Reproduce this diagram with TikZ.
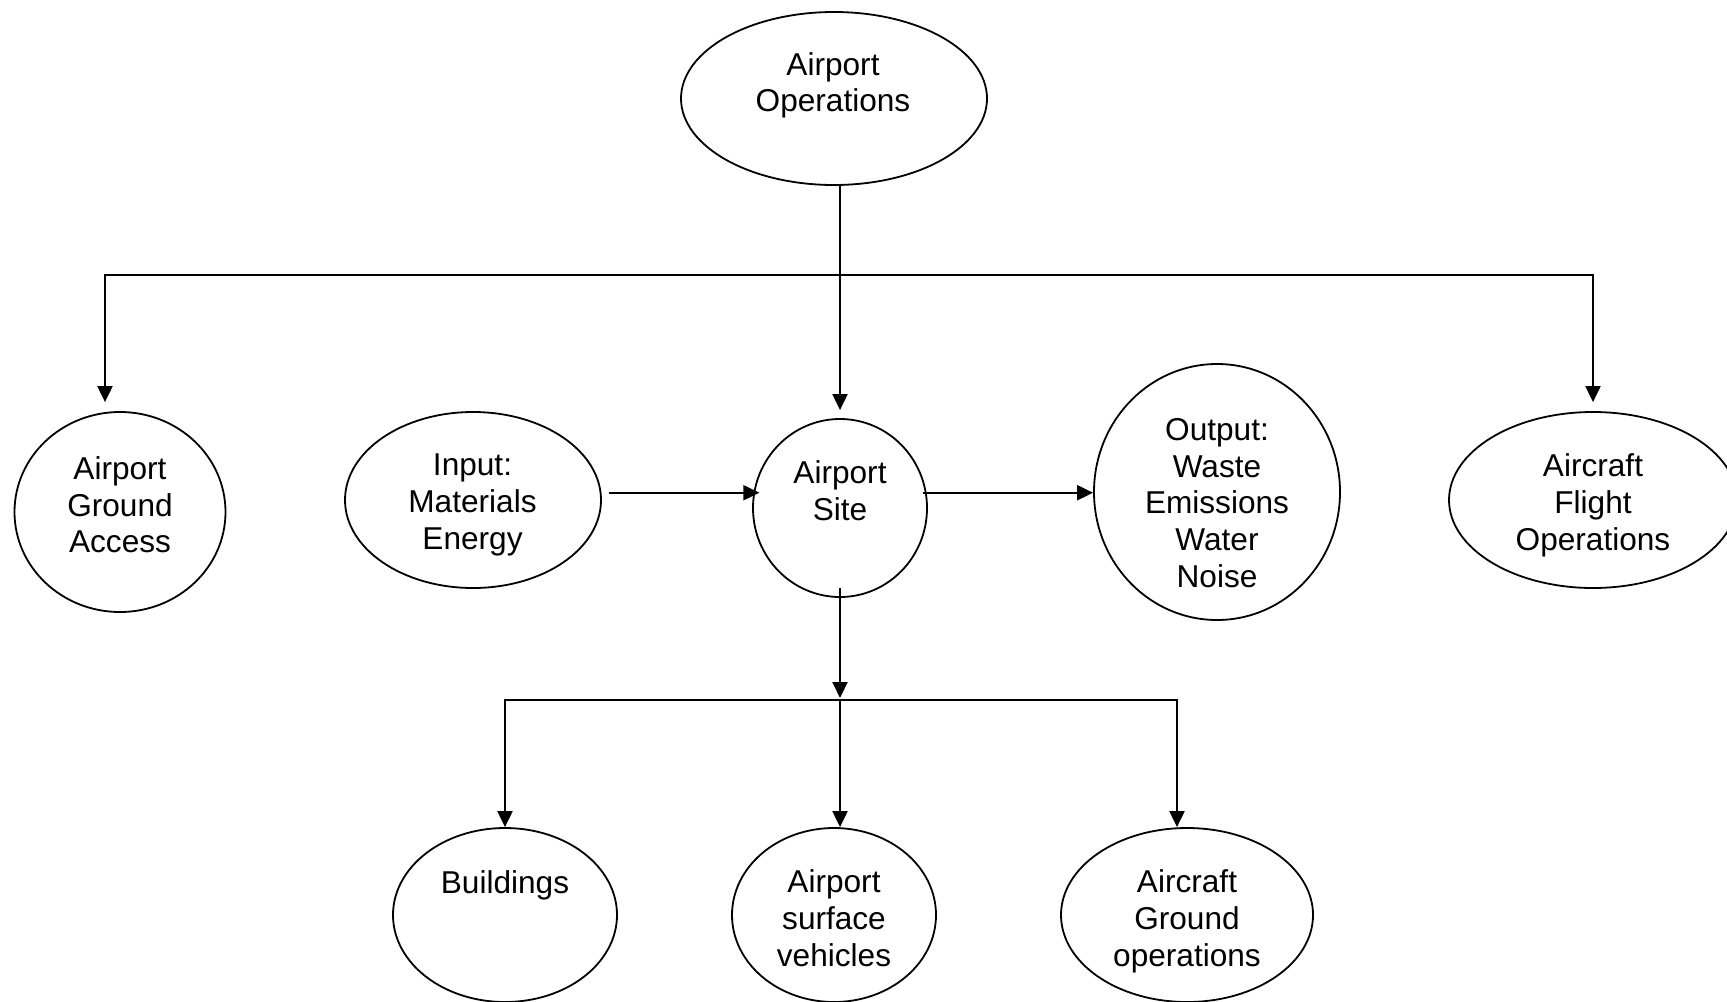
\documentclass[tikz,border=0pt]{standalone}
\usepackage{fontspec}
\setmainfont{Liberation Sans}
\usetikzlibrary{shapes.geometric,arrows.meta}
\begin{document}
\begin{tikzpicture}[x=0.5pt,y=-0.5pt,
  oval/.style={ellipse,draw,line width=0.9pt,inner sep=0pt},
  lbl/.style={align=center,inner sep=0pt,font=\fontsize{15.8pt}{18.35pt}\selectfont},
  arr/.style={line width=1pt,-{Triangle[length=8pt,width=7.5pt]}}]
\useasboundingbox (0,0) rectangle (1727,1001);

% ovals
\node[oval,minimum width=153pt,minimum height=86.5pt] (ops)    at (834,98.5) {};
\node[oval,minimum width=105.5pt,minimum height=100pt] (gnd)   at (120,512) {};
\node[oval,minimum width=128pt,minimum height=88pt]   (in)     at (473,500) {};
\node[oval,minimum width=87pt,minimum height=89pt]    (site)   at (840,508) {};
\node[oval,minimum width=123pt,minimum height=128pt]  (out)    at (1217,492) {};
\node[oval,minimum width=144pt,minimum height=88pt]   (flight) at (1593,500) {};
\node[oval,minimum width=112pt,minimum height=87pt]   (bld)    at (505,915) {};
\node[oval,minimum width=102pt,minimum height=87pt]   (veh)    at (834,915) {};
\node[oval,minimum width=126pt,minimum height=87pt]   (acg)    at (1187,915) {};

% labels
\node[lbl] (opsT)    at (833,85.2)  {Airport\\Operations};
\node[lbl] (gndT)    at (120,504.7) {Airport\\Ground\\Access};
\node[lbl] (inT)     at (472.5,505) {Input:\\Materials\\Energy};
\node[lbl] (siteT)   at (840,491)   {Airport\\Site};
\node[lbl] (outT)    at (1217,502.9) {Output:\\Waste\\Emissions\\Water\\Noise};
\node[lbl] (flightT) at (1593,505.5) {Aircraft\\Flight\\Operations};
\node[lbl,anchor=base] (bldT) at (505,893) {Buildings};
\node[lbl] (vehT)    at (834,918.2) {Airport\\surface\\vehicles};
\node[lbl] (acgT)    at (1187,921.5) {Aircraft\\Ground\\operations};

% junctions
\coordinate (jtop) at (840,275);
\coordinate (jbot) at (840,700);

% top level branches
\draw[arr,shorten >=4pt] (site.north |- ops.south) -- (site.north);
\draw[arr,shorten >=4.5pt] (jtop) -| ([xshift=-7.5pt]gnd.north);
\draw[arr,shorten >=4.5pt] (jtop) -| (flight.north);

% flows through the site
\draw[arr,shorten <=3.5pt,shorten >=-3pt] (in.east |- site.170) -- (site.170);
\draw[arr,shorten <=-2pt] (site.10) -- (site.10 -| out.west);

% site components
\draw[arr,shorten <=-5pt,shorten >=1pt] (site.south) -- (jbot);
\draw[arr] (jbot) -| (bld.north);
\draw[arr] (jbot) -- (jbot |- veh.north);
\draw[arr] (jbot) -| ([xshift=-5pt]acg.north);
\end{tikzpicture}
\end{document}
